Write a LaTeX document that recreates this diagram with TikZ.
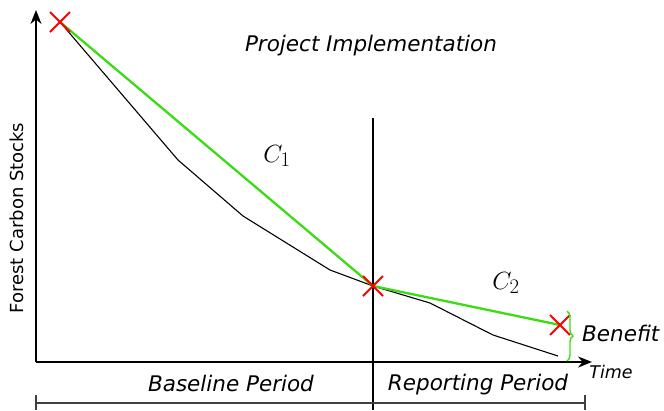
\documentclass[tikz,border=0pt]{standalone}
\usepackage{fontspec}
\setmainfont{DejaVu Sans}
\usetikzlibrary{decorations.pathreplacing,arrows.meta,calc}
\begin{document}
\begin{tikzpicture}[x=1pt,y=-1pt,
  axis/.style={line width=1.6pt,-{Stealth[length=14pt,width=11pt]}},
  cross/.style={red,line width=1.8pt},
  lbl/.style={font=\itshape\fontsize{21.5}{24}\selectfont,inner sep=0pt}]
\useasboundingbox (0,0) rectangle (664,410);
\definecolor{lgreen}{RGB}{60,220,20}
% axes
\coordinate (O) at (36,362);
\coordinate (Ytop) at (36,10);
\coordinate (Xend) at (592,362);
\draw[axis] (O) -- (Ytop);
\draw[axis] (O) -- (Xend);
% vertical divider
\coordinate (Vtop) at (373,118);
\coordinate (Vbot) at (373,410);
\draw[line width=2.2pt] (Vtop) -- (Vbot);
% bottom bracket
\coordinate (BL) at (36,403);
\coordinate (BR) at (585,403);
\draw[line width=1.5pt,black!75] (BL) -- (BR);
\draw[line width=1.5pt,black!75] (36,395) -- (36,410);
\draw[line width=1.5pt,black!75] (585,395) -- (585,410);
% points
\coordinate (P1) at (60,22);
\coordinate (P2) at (373,286);
\coordinate (P3) at (560,325);
% black actual line
\draw[line width=1.1pt] (P1) -- (178,160) -- (243,216) -- (330,270) -- (P2) -- (430,303) -- (493,335) -- (558,356);
% green line
\draw[lgreen,line width=2.3pt] (P1) -- (P2) -- (P3);
% crosses
\foreach \p in {P1,P2,P3}{
  \draw[cross] ($(\p)+(-10,-10)$) -- ($(\p)+(10,10)$);
  \draw[cross] ($(\p)+(-10,10)$) -- ($(\p)+(10,-10)$);
}
% brace
\draw[lgreen,line width=1.4pt,decorate,decoration={brace,amplitude=6pt}] (567,311) -- (567,361);
% labels
\node[lbl] (title) at (371,46) {Project Implementation};
\node[font=\fontsize{28}{30}\selectfont] (c1) at (277,156) {$C_1$};
\node[font=\fontsize{28}{30}\selectfont] (c2) at (506,283) {$C_2$};
\node[lbl,anchor=west] (benefit) at (582,333) {Benefit};
\node[lbl] (base) at (231,383) {Baseline Period};
\node[lbl] (rep) at (478,385) {Reporting Period};
\node[font=\itshape\fontsize{17.5}{19}\selectfont,inner sep=0pt] (time) at (611,372) {Time};
\node[font=\fontsize{18}{20}\selectfont,rotate=90,inner sep=0pt] (ylab) at (17,218) {Forest Carbon Stocks};
\end{tikzpicture}
\end{document}
